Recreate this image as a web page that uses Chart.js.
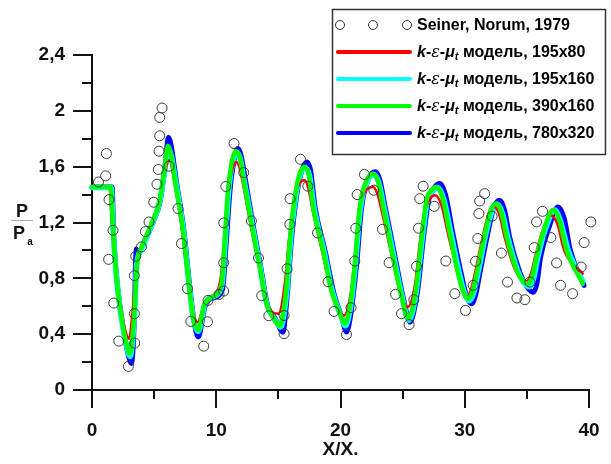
<!DOCTYPE html>
<html><head><meta charset="utf-8">
<script src="https://cdn.jsdelivr.net/npm/chart.js@4/dist/chart.umd.min.js"></script>
<style>html,body{margin:0;padding:0;background:#fff}#wrap{width:611px;height:464px}</style>
</head><body><div id="wrap"><canvas id="c" width="611" height="464"></canvas></div>
<script>
const xTicks = [0, 10, 20, 30, 40];
const yTicks = [0, 0.4, 0.8, 1.2, 1.6, 2, 2.4];
const xMinor = [5, 15, 25, 35];
const yMinor = [0.2, 0.6, 1.0, 1.4, 1.8, 2.2];

const expX = [0.52,1.16,1.1,1.37,1.69,1.34,1.75,2.15,2.93,3.44,3.41,3.41,3.52,3.98,4.3,4.59,4.97,5.23,5.34,5.39,5.45,5.45,5.64,6.2,6.92,7.2,7.68,7.95,8.99,9.29,9.34,10.23,10.6,10.6,10.6,10.77,11.43,12.21,12.83,13.4,13.66,14.23,15.46,15.46,15.7,15.92,15.94,16.78,17.37,18.15,19.0,19.48,20.48,20.85,21.15,21.23,21.34,21.93,22.68,23.38,23.91,24.43,24.91,25.52,25.9,26.12,26.28,26.38,26.65,27.54,28.48,29.2,30.06,30.68,30.87,31.05,31.14,31.2,31.6,32.2,32.95,33.44,34.2,34.84,35.24,35.59,35.78,36.26,36.93,37.39,37.71,38.68,39.37,39.61,40.15];
const expY = [1.49,1.694,1.534,1.364,1.144,0.936,0.623,0.35,0.169,0.336,0.547,0.819,0.958,1.025,1.135,1.204,1.345,1.474,1.58,1.711,1.821,1.953,2.02,1.603,1.3,1.049,0.726,0.491,0.314,0.489,0.642,0.685,0.709,0.912,1.197,1.458,1.766,1.558,1.211,0.946,0.676,0.532,0.534,0.403,0.869,1.187,1.371,1.653,1.46,1.125,0.776,0.563,0.398,0.59,0.924,1.159,1.4,1.544,1.431,1.151,0.912,0.685,0.547,0.468,0.647,0.886,1.159,1.371,1.46,1.316,0.924,0.69,0.57,0.75,0.922,1.085,1.264,1.354,1.407,1.245,0.981,0.773,0.659,0.647,0.773,1.02,1.204,1.28,1.092,0.91,0.75,0.69,0.881,1.056,1.204];

const redX = [0,1.4,1.6,1.9,2.3,2.7,2.98,3.3,3.6,3.9,4.7,5.4,5.85,6.2,6.75,7.25,7.65,8.1,8.5,9.0,9.7,10.35,10.65,10.95,11.3,11.6,11.85,12.1,12.75,13.45,14.0,14.5,15.0,15.5,15.85,16.25,16.7,17.1,17.4,17.75,18.5,19.2,19.85,20.3,20.8,21.1,21.5,22.05,22.6,22.95,23.35,24.15,24.8,25.4,26.0,26.4,26.85,27.2,27.6,28.1,28.7,29.4,29.85,30.2,30.5,30.85,31.5,31.95,32.4,32.8,33.25,34.05,34.55,35.0,35.35,35.65,36.3,36.95,37.45,38.0,39.5];
const redY = [1.455,1.45,1.2,0.85,0.6,0.42,0.367,0.6,0.92,1.0,1.17,1.34,1.55,1.646,1.43,1.14,0.83,0.57,0.486,0.6,0.67,0.8,1.07,1.42,1.58,1.634,1.6,1.5,1.19,0.88,0.64,0.56,0.547,0.75,1.07,1.35,1.48,1.503,1.45,1.29,1.0,0.73,0.58,0.534,0.68,0.9,1.28,1.43,1.455,1.41,1.27,0.95,0.7,0.594,0.76,1.07,1.3,1.37,1.395,1.33,1.1,0.85,0.72,0.67,0.72,0.85,1.12,1.27,1.311,1.25,1.08,0.86,0.8,0.78,0.84,0.95,1.15,1.25,1.19,1.0,0.834];

const cyanX = [0,1.55,1.7,1.98,2.4,2.8,3.08,3.42,3.6,3.95,4.8,5.45,5.87,6.15,6.83,7.36,7.76,8.16,8.55,9.1,9.78,10.45,10.72,11.0,11.28,11.67,11.95,12.2,12.88,13.55,14.08,14.62,15.2,15.45,15.7,15.97,16.37,16.78,17.2,17.52,17.86,18.66,19.33,20.0,20.4,20.65,20.93,21.2,21.6,22.14,22.7,23.07,23.5,24.3,24.98,25.5,25.8,26.15,26.56,26.98,27.4,27.82,28.3,28.9,29.58,30.0,30.38,30.7,31.05,31.7,32.2,32.65,33.05,33.45,34.28,34.75,35.25,35.55,35.88,36.56,37.25,37.7,38.33,39.5];
const cyanY = [1.45,1.45,1.15,0.8,0.5,0.31,0.24,0.55,0.9,1.0,1.18,1.35,1.58,1.73,1.44,1.14,0.8,0.51,0.42,0.62,0.67,0.75,1.06,1.42,1.61,1.7,1.65,1.52,1.19,0.87,0.61,0.52,0.45,0.54,0.73,1.06,1.37,1.55,1.59,1.53,1.31,1.0,0.71,0.54,0.46,0.52,0.67,0.9,1.3,1.49,1.54,1.49,1.31,0.95,0.66,0.5,0.56,0.74,1.07,1.35,1.42,1.45,1.37,1.12,0.83,0.69,0.64,0.69,0.83,1.12,1.28,1.33,1.26,1.1,0.85,0.77,0.74,0.8,0.95,1.17,1.29,1.21,1.0,0.78];

const greenX = [0,1.5,1.7,1.96,2.37,2.77,3.04,3.44,3.62,3.98,4.78,5.45,5.85,6.12,6.8,7.33,7.73,8.13,8.53,9.07,9.74,10.42,10.68,10.95,11.22,11.4,11.62,11.9,12.16,12.83,13.5,14.04,14.57,15.11,15.38,15.65,15.92,16.32,16.72,17.13,17.45,17.8,18.6,19.27,19.94,20.35,20.6,20.88,21.15,21.55,22.09,22.63,23.0,23.43,24.23,24.91,25.44,25.75,26.1,26.5,26.92,27.3,27.73,28.2,28.8,29.47,29.9,30.27,30.6,30.95,31.62,32.1,32.56,32.95,33.36,34.17,34.6,35.1,35.45,35.77,36.45,37.1,37.6,38.2,39.5];
const greenY = [1.455,1.455,1.15,0.81,0.52,0.33,0.26,0.59,0.9,1.02,1.19,1.36,1.6,1.75,1.43,1.14,0.81,0.52,0.43,0.62,0.67,0.76,1.07,1.43,1.62,1.685,1.71,1.665,1.53,1.19,0.88,0.62,0.52,0.46,0.55,0.74,1.07,1.38,1.55,1.6,1.54,1.31,1.0,0.71,0.55,0.475,0.53,0.67,0.9,1.31,1.5,1.55,1.5,1.31,0.95,0.67,0.51,0.57,0.74,1.07,1.36,1.43,1.455,1.38,1.12,0.83,0.7,0.654,0.7,0.83,1.12,1.29,1.336,1.27,1.1,0.86,0.79,0.76,0.82,0.95,1.17,1.29,1.22,1.0,0.76];

const blueX = [0,1.62,1.75,2.05,2.5,2.9,3.17,3.4,3.5,3.57,3.75,4.1,4.9,5.5,5.9,6.15,6.85,7.4,7.8,8.2,8.55,9.1,9.8,10.5,10.8,11.1,11.4,11.75,12.0,12.3,12.95,13.6,14.15,14.7,15.38,15.58,15.75,16.05,16.45,16.85,17.3,17.6,17.95,18.75,19.45,20.1,20.48,20.75,21.0,21.3,21.7,22.25,22.8,23.15,23.6,24.4,25.1,25.6,25.9,26.25,26.65,27.1,27.55,28.0,28.45,29.05,29.75,30.15,30.55,30.9,31.2,31.85,32.35,32.8,33.2,33.6,34.45,35.0,35.5,35.8,36.1,36.8,37.5,38.0,38.5,39.6];
const blueY = [1.455,1.455,1.1,0.75,0.45,0.26,0.19,0.5,0.9,1.01,0.97,1.04,1.2,1.36,1.62,1.81,1.46,1.14,0.8,0.5,0.38,0.6,0.66,0.72,1.05,1.42,1.63,1.73,1.68,1.53,1.19,0.87,0.6,0.52,0.415,0.55,0.72,1.07,1.38,1.56,1.634,1.57,1.31,1.0,0.7,0.52,0.415,0.5,0.66,0.9,1.31,1.51,1.563,1.51,1.31,0.95,0.64,0.486,0.56,0.74,1.07,1.36,1.45,1.479,1.4,1.12,0.82,0.67,0.618,0.69,0.83,1.12,1.31,1.36,1.29,1.1,0.84,0.74,0.70,0.76,0.95,1.17,1.311,1.23,1.0,0.75];

const legendLabels = ['Seiner, Norum, 1979', ' модель, 195x80', ' модель, 195x160', ' модель, 390x160', ' модель, 780x320'];
const seriesColors = ['#333333', '#ff0000', '#00ffff', '#00ff00', '#0000ff'];

const zip = (xs, ys) => xs.map((x, i) => ({x: x, y: ys[i]}));
const FONT = "'Liberation Sans', Arial, sans-serif";

function lineDs(label, xs, ys, color, w, order) {
  return {label, data: zip(xs, ys), borderColor: color, backgroundColor: color,
    borderWidth: w, pointRadius: 0, showLine: true, cubicInterpolationMode: 'monotone',
    order, clip: false, borderCapStyle: 'round', borderJoinStyle: 'round'};
}

const decor = {
  id: 'decor',
  afterDraw(chart) {
    const ctx = chart.ctx;
    const xs = chart.scales.x, ys = chart.scales.y;
    const a = chart.chartArea;
    ctx.save();
    ctx.strokeStyle = '#111'; ctx.lineWidth = 2;
    ctx.beginPath();
    xMinor.forEach(v => { const p = Math.round(xs.getPixelForValue(v)); ctx.moveTo(p, a.bottom); ctx.lineTo(p, a.bottom + 9); });
    yMinor.forEach(v => { const p = Math.round(ys.getPixelForValue(v)); ctx.moveTo(a.left, p); ctx.lineTo(a.left - 10, p); });
    ctx.stroke();
    ctx.fillStyle = '#111';
    ctx.textAlign = 'center'; ctx.textBaseline = 'middle';
    ctx.font = 'bold 18px ' + FONT;
    ctx.fillText('P', 22, 212);
    ctx.fillText('P', 19, 234);
    ctx.font = 'bold 10px ' + FONT;
    ctx.fillText('a', 30, 242);
    ctx.strokeStyle = '#aaa'; ctx.lineWidth = 1;
    ctx.beginPath(); ctx.moveTo(11, 220.5); ctx.lineTo(33, 220.5); ctx.stroke();
    const bx = 332, by = 9, bw = 273, bh = 145;
    ctx.fillStyle = '#fff'; ctx.fillRect(bx, by, bw, bh);
    ctx.strokeStyle = '#333'; ctx.lineWidth = 1.5;
    ctx.strokeRect(bx + 0.5, by + 0.5, bw, bh);
    const rows = [25, 52, 79, 106, 133];
    const tx = 417;
    ctx.textAlign = 'left'; ctx.textBaseline = 'middle';
    ctx.strokeStyle = seriesColors[0]; ctx.lineWidth = 1;
    [340, 373, 407].forEach(cx => { ctx.beginPath(); ctx.arc(cx, rows[0], 4.5, 0, Math.PI * 2); ctx.stroke(); });
    ctx.fillStyle = '#000';
    ctx.font = 'bold 16px ' + FONT;
    ctx.fillText(legendLabels[0], tx, rows[0] + 1);
    for (let i = 1; i < 5; i++) {
      const y = rows[i];
      ctx.strokeStyle = seriesColors[i]; ctx.lineWidth = 4; ctx.lineCap = 'round';
      ctx.beginPath(); ctx.moveTo(338, y); ctx.lineTo(410, y); ctx.stroke();
      let x = tx;
      const segs = [
        ['k', 'italic bold 16px ' + FONT, 0],
        ['-', 'bold 16px ' + FONT, 0],
        ['ε', 'italic 16px "DejaVu Serif", serif', 0],
        ['-', 'bold 16px ' + FONT, 0],
        ['μ', 'italic bold 16px ' + FONT, 0],
        ['t', 'italic bold 11px ' + FONT, 4],
        [legendLabels[i], 'bold 16px ' + FONT, 0]
      ];
      ctx.fillStyle = '#000';
      segs.forEach(s => { ctx.font = s[1]; ctx.fillText(s[0], x, y + 1 + s[2]); x += ctx.measureText(s[0]).width; });
    }
    ctx.restore();
  }
};

const fmt = v => String(Math.round(v * 10) / 10).replace('.', ',');

new Chart(document.getElementById('c'), {
  type: 'scatter',
  data: {
    datasets: [
      {label: legendLabels[0], data: zip(expX, expY), pointStyle: 'circle', pointRadius: 5, pointHoverRadius: 5,
        borderColor: '#3a3a3a', backgroundColor: 'rgba(0,0,0,0)', borderWidth: 1, showLine: false, order: 0, clip: false},
      lineDs('195x80', redX, redY, '#ff0000', 2.5, 2),
      lineDs('195x160', cyanX, cyanY, '#00ffff', 5.5, 3),
      lineDs('390x160', greenX, greenY, '#00ff00', 4.5, 1),
      lineDs('780x320', blueX, blueY, '#0000ff', 5, 4)
    ]
  },
  options: {
    responsive: false, animation: false, devicePixelRatio: 1,
    layout: {padding: {left: 0, right: 22, top: 55, bottom: 0}},
    plugins: {legend: {display: false}, tooltip: {enabled: false}},
    scales: {
      x: {
        type: 'linear', min: 0, max: 40,
        afterBuildTicks: s => { s.ticks = xTicks.map(v => ({value: v})); },
        afterFit: s => { s.height = 74; },
        grid: {drawOnChartArea: false, drawTicks: true, tickLength: 18, color: '#111', lineWidth: 2},
        border: {display: true, color: '#111', width: 2},
        ticks: {color: '#111', font: {family: FONT, size: 19, weight: 'bold'}, padding: 11, maxRotation: 0, callback: v => fmt(v)},
        title: {display: true, text: 'X/X.', color: '#111', font: {family: FONT, size: 19, weight: 'bold'}, padding: {top: 0, bottom: 3}}
      },
      y: {
        type: 'linear', min: 0, max: 2.4,
        afterBuildTicks: s => { s.ticks = yTicks.map(v => ({value: v})); },
        afterFit: s => { s.width = 92; },
        grid: {drawOnChartArea: false, drawTicks: true, tickLength: 19, color: '#111', lineWidth: 2},
        border: {display: true, color: '#111', width: 2},
        ticks: {color: '#111', font: {family: FONT, size: 19, weight: 'bold'}, padding: 8, callback: v => fmt(v)}
      }
    }
  },
  plugins: [decor]
});
</script>
</body></html>
